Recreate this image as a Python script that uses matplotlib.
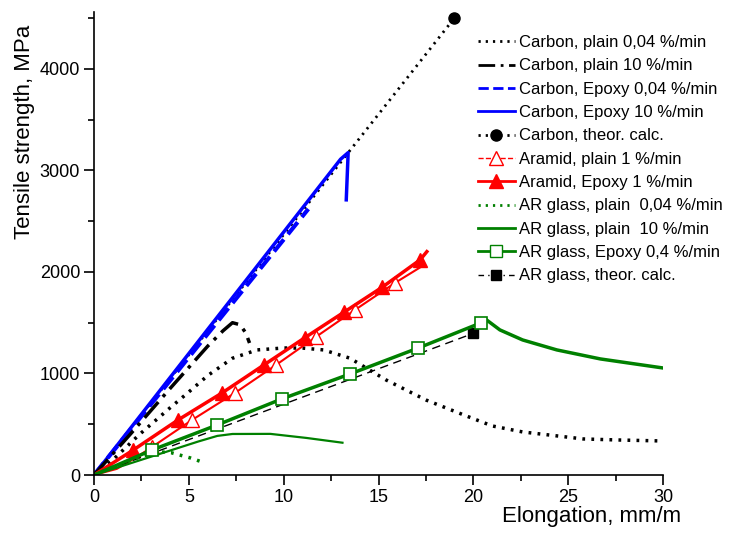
import matplotlib
matplotlib.use("Agg")
import matplotlib.pyplot as plt
from matplotlib.lines import Line2D
from matplotlib.ticker import MultipleLocator

plt.rcParams['font.family'] = ['Liberation Sans', 'DejaVu Sans']

# Carbon, plain 0,04 %/min
c_slow_x = [0, 1, 2.4, 4, 5, 6, 7.3, 8.6, 10, 11, 12.1, 13.5, 15.4, 17.5, 19.5, 21, 22.6, 24, 25.8, 27.6, 30]
c_slow_y = [0, 150, 400, 660, 818, 980, 1150, 1232, 1251, 1250, 1232, 1150, 936, 739, 591, 483, 424, 394, 355, 345, 335]

# Carbon, plain 10 %/min
c_fast_x = [0, 2, 4, 6, 6.8, 7.3, 7.7, 8.0, 8.2]
c_fast_y = [0, 420, 850, 1270, 1420, 1500, 1480, 1400, 1300]

# Carbon, Epoxy 0,04 %/min and 10 %/min
c_ep_slow_x = [0, 11.3]
c_ep_slow_y = [0, 2620]
c_ep_fast_x = [0, 13.0, 13.4, 13.3]
c_ep_fast_y = [0, 3110, 3175, 2710]

# Carbon, theor. calc.
c_theor_x = [0, 19]
c_theor_y = [0, 4500]

# Aramid, plain 1 %/min (markers at indices 3..)
ar_plain_x = [0, 1.2, 2.2, 3.06, 5.17, 7.43, 9.6, 11.7, 13.76, 15.87, 17.2]
ar_plain_y = [0, 60, 170, 276, 542, 808, 1084, 1360, 1626, 1892, 2045]
ar_plain_marks = [3, 4, 5, 6, 7, 8, 9]

# Aramid, Epoxy 1 %/min
ar_ep_x = [0, 2.07, 4.43, 6.75, 8.96, 11.1, 13.2, 15.2, 17.2, 17.55]
ar_ep_y = [0, 246, 542, 808, 1084, 1350, 1606, 1850, 2120, 2200]
ar_ep_marks = [1, 2, 3, 4, 5, 6, 7, 8]

# AR glass, plain 0,04 %/min
g_slow_x = [0, 2, 3.3, 4.06, 5.1, 5.7]
g_slow_y = [0, 150, 230, 220, 167, 128]

# AR glass, plain 10 %/min
g_fast_x = [0, 2, 4, 5.5, 6.5, 7.3, 9.3, 11.2, 13.1]
g_fast_y = [0, 120, 240, 330, 385, 404, 405, 365, 318]

# AR glass, Epoxy 0,4 %/min
g_ep_x = [0, 3.06, 6.5, 9.9, 13.5, 17.1, 20.4, 20.7, 21.4, 22.6, 24.4, 26.7, 30]
g_ep_y = [0, 246, 493, 749, 995, 1251, 1498, 1527, 1429, 1330, 1232, 1143, 1054]
g_ep_marks = [1, 2, 3, 4, 5, 6]

# AR glass, theor. calc.
g_theor_x = [0, 20]
g_theor_y = [0, 1395]

labels = [
    'Carbon, plain 0,04 %/min',
    'Carbon, plain 10 %/min',
    'Carbon, Epoxy 0,04 %/min',
    'Carbon, Epoxy 10 %/min',
    'Carbon, theor. calc.',
    'Aramid, plain 1 %/min',
    'Aramid, Epoxy 1 %/min',
    'AR glass, plain  0,04 %/min',
    'AR glass, plain  10 %/min',
    'AR glass, Epoxy 0,4 %/min',
    'AR glass, theor. calc.',
]

RED = '#ff0000'
BLUE = '#0000ff'
GREEN = '#008000'
dot = (0, (0.8, 1.8))
dashdot = (0, (6, 2, 1, 2))

fig = plt.figure(figsize=(7.29, 5.41), dpi=100)
ax = fig.add_axes([94 / 729, 1 - 475 / 541, (663 - 94) / 729, (475 - 12) / 541])

ax.plot(c_theor_x, c_theor_y, color='black', lw=2, linestyle=dot,
        marker='o', ms=8, markevery=[1])
ax.plot(c_ep_slow_x, c_ep_slow_y, color=BLUE, lw=3, linestyle='--')
ax.plot(c_ep_fast_x, c_ep_fast_y, color=BLUE, lw=2.5)
ax.plot(c_fast_x, c_fast_y, color='black', lw=2.5, linestyle=dashdot)
ax.plot(c_slow_x, c_slow_y, color='black', lw=2.5, linestyle=dot)

ax.plot(ar_plain_x, ar_plain_y, color=RED, lw=1.5, marker='^', ms=10,
        mfc='white', mec=RED, markevery=ar_plain_marks)
ax.plot(ar_ep_x, ar_ep_y, color=RED, lw=2.5, marker='^', ms=10,
        mfc=RED, mec=RED, markevery=ar_ep_marks)

ax.plot(g_theor_x, g_theor_y, color='black', lw=1, linestyle=(0, (6, 4)),
        marker='s', ms=7, markevery=[1])
ax.plot(g_slow_x, g_slow_y, color=GREEN, lw=2.5, linestyle=dot)
ax.plot(g_fast_x, g_fast_y, color=GREEN, lw=1.6)
ax.plot(g_ep_x, g_ep_y, color=GREEN, lw=2.5, marker='s', ms=8,
        mfc='white', mec=GREEN, mew=1.2, markevery=g_ep_marks)

ax.set_xlim(0, 30)
ax.set_ylim(0, 4560)
ax.xaxis.set_major_locator(MultipleLocator(5))
ax.xaxis.set_minor_locator(MultipleLocator(2.5))
ax.yaxis.set_major_locator(MultipleLocator(1000))
ax.yaxis.set_minor_locator(MultipleLocator(500))
ax.spines['top'].set_visible(False)
ax.spines['right'].set_visible(False)
for s in ('left', 'bottom'):
    ax.spines[s].set_linewidth(1.2)
ax.tick_params(which='major', direction='out', length=7, width=1.2, labelsize=13, pad=3)
ax.tick_params(which='minor', direction='out', length=4, width=1.2)

ax.set_xlabel('Elongation, mm/m', fontsize=16)
ax.set_ylabel('Tensile strength, MPa', fontsize=16)
ax.xaxis.set_label_coords(0.875, -0.068)
ax.yaxis.set_label_coords(-0.103, 0.741)

handles = [
    Line2D([], [], color='black', lw=2, linestyle=dot),
    Line2D([], [], color='black', lw=2, linestyle=dashdot),
    Line2D([], [], color=BLUE, lw=2, linestyle='--'),
    Line2D([], [], color=BLUE, lw=2),
    Line2D([], [], color='black', lw=2, linestyle=dot, marker='o', ms=8),
    Line2D([], [], color=RED, lw=1, linestyle='--', marker='^', ms=10, mfc='white', mec=RED),
    Line2D([], [], color=RED, lw=2, marker='^', ms=10, mfc=RED, mec=RED),
    Line2D([], [], color=GREEN, lw=2, linestyle=dot),
    Line2D([], [], color=GREEN, lw=2),
    Line2D([], [], color=GREEN, lw=2, marker='s', ms=8, mfc='white', mec=GREEN),
    Line2D([], [], color='black', lw=1, linestyle=(0, (4, 3, 1, 3)), marker='s', ms=7),
]
fig.legend(handles, labels, loc='upper left', bbox_to_anchor=(478 / 729, 1 - 35 / 541),
           frameon=False, fontsize=12, handlelength=2.2, handletextpad=0.25,
           labelspacing=0.5, borderpad=0, borderaxespad=0)

fig.savefig('out.png', dpi=100)
